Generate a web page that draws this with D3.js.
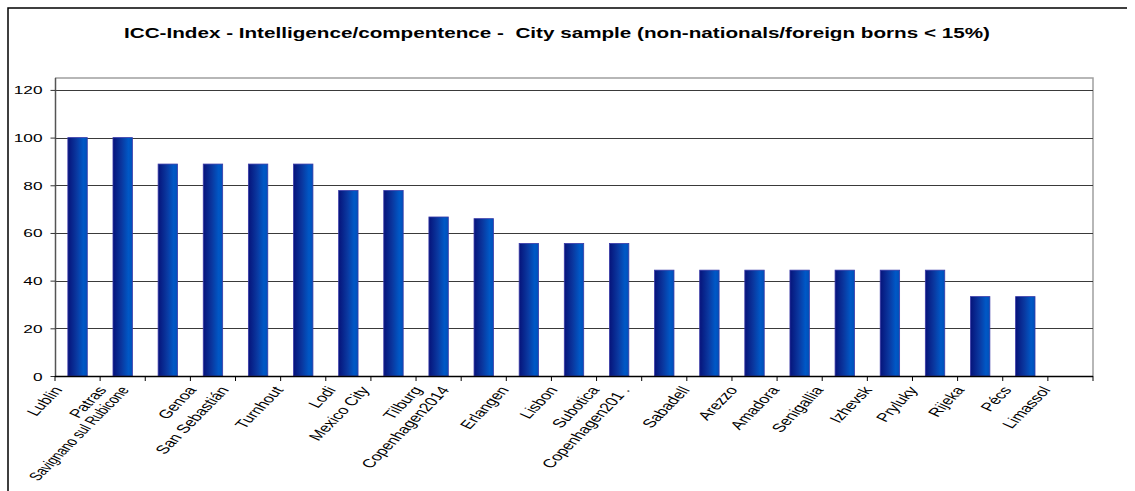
<!DOCTYPE html>
<html>
<head>
<meta charset="utf-8">
<script src="https://cdn.jsdelivr.net/npm/d3@7"></script>
<style>
  body { margin: 0; background: #fff; }
  svg text { font-family: "Liberation Sans", Arial, sans-serif; }
</style>
</head>
<body>
<svg class="viz"></svg>
<script>
var width = 1135,
  height = 491;

var cities = ["Lublin", "Patras", "Savignano sul Rubicone", "Genoa", "San Sebastián",
  "Turnhout", "Lodi", "Mexico City", "Tilburg", "Copenhagen2014", "Erlangen",
  "Lisbon", "Subotica", "Copenhagen201 .", "Sabadell", "Arezzo", "Amadora",
  "Senigallia", "Izhevsk", "Pryluky", "Rijeka", "Pécs", "Limassol"];

var scores = [100, 100, 88.9, 88.9, 88.9, 88.9, 77.8, 77.8, 66.7, 66, 55.6,
  55.6, 55.6, 44.4, 44.4, 44.4, 44.4, 44.4, 44.4, 44.4, 33.3, 33.3, 0];

var y_ticks = [0, 20, 40, 60, 80, 100, 120];

var title = "ICC-Index - Intelligence/compentence -  City sample (non-nationals/foreign borns < 15%)";

var plot = { left: 55, right: 1093, top: 78, bottom: 376 };
var stretch = 1.5; // the original picture is squeezed vertically, text looks wide

var svg = d3.select(".viz")
  .attr("width", width)
  .attr("height", height);

var x = d3.scaleBand()
  .domain(cities)
  .range([plot.left, plot.right])
  .padding(0);

var y = d3.scaleLinear()
  .domain([0, 125])
  .range([plot.bottom, plot.top]);

// gradient for the cylinder-ish bars
var grad = svg.append("defs").append("linearGradient")
  .attr("id", "barfill")
  .attr("x1", "0%").attr("x2", "100%")
  .attr("y1", "0%").attr("y2", "0%");
grad.append("stop").attr("offset", "0%").attr("stop-color", "#06137a");
grad.append("stop").attr("offset", "45%").attr("stop-color", "#0a38a0");
grad.append("stop").attr("offset", "80%").attr("stop-color", "#0058c6");
grad.append("stop").attr("offset", "100%").attr("stop-color", "#0050b8");

// outer frame (left + top only, picture is cropped)
svg.append("path")
  .attr("d", "M8,491 L8,8 L1127,8")
  .attr("fill", "none")
  .attr("stroke", "#000")
  .attr("stroke-width", 1.5);

// title
svg.append("text")
  .attr("x", 557)
  .attr("y", 38)
  .attr("text-anchor", "middle")
  .attr("font-size", 15)
  .attr("font-weight", "bold")
  .style("white-space", "pre")
  .attr("textLength", 866)
  .attr("lengthAdjust", "spacingAndGlyphs")
  .text(title);

// plot area border top / right
svg.append("path")
  .attr("d", "M" + plot.left + "," + plot.top + " L" + plot.right + "," + plot.top + " L" + plot.right + "," + plot.bottom)
  .attr("fill", "none")
  .attr("stroke", "#a0a0a0")
  .attr("stroke-width", 1.5);

// gridlines
svg.append("g")
  .selectAll("line")
  .data(y_ticks.filter(d => d > 0))
  .enter()
  .append("line")
  .attr("x1", plot.left)
  .attr("x2", plot.right)
  .attr("y1", d => Math.round(y(d)) + 0.5)
  .attr("y2", d => Math.round(y(d)) + 0.5)
  .attr("stroke", "#3a3a3a")
  .attr("stroke-width", 1);

// y axis
var y_axis = svg.append("g")
  .attr("transform", "translate(" + (plot.left + 0.5) + ",0)")
  .call(d3.axisLeft(y).tickValues(y_ticks).tickSize(5).tickFormat(d3.format("d")));
y_axis.select(".domain").attr("stroke", "#555").attr("stroke-width", 1.5)
  .attr("d", "M0," + plot.top + "V" + plot.bottom);
y_axis.selectAll(".tick line").attr("stroke", "#333");
y_axis.selectAll(".tick text")
  .attr("x", null)
  .attr("dy", null)
  .attr("font-size", 11.5)
  .attr("fill", "#000")
  .attr("text-anchor", "end")
  .attr("transform", d => "translate(-13," + (y(d) + 4) + ") scale(" + stretch + ",1) translate(0," + (-y(d)) + ")");

// bars
var bar_w = x.bandwidth() * 0.43;
svg.append("g")
  .selectAll("rect")
  .data(scores.map((v, i) => ({ city: cities[i], v: v })).filter(d => d.v > 0))
  .enter()
  .append("rect")
  .attr("x", d => x(d.city) + (x.bandwidth() - bar_w) / 2)
  .attr("width", bar_w)
  .attr("y", d => y(d.v))
  .attr("height", d => y(0) - y(d.v))
  .attr("fill", "url(#barfill)")
  .attr("stroke", "#3a3aa8")
  .attr("stroke-width", 0.8);

// x axis with ticks at category boundaries
var x_axis = svg.append("g");
x_axis.append("line")
  .attr("x1", plot.left)
  .attr("x2", plot.right)
  .attr("y1", plot.bottom + 0.5)
  .attr("y2", plot.bottom + 0.5)
  .attr("stroke", "#000")
  .attr("stroke-width", 1.5);
x_axis.selectAll(".xtick")
  .data(d3.range(cities.length + 1))
  .enter()
  .append("line")
  .attr("class", "xtick")
  .attr("x1", i => plot.left + i * x.step())
  .attr("x2", i => plot.left + i * x.step())
  .attr("y1", plot.bottom)
  .attr("y2", plot.bottom + 5)
  .attr("stroke", "#000");

// slanted city labels
var angle = Math.atan(stretch) * 180 / Math.PI;
var max_len = 110;
x_axis.selectAll(".xlabel")
  .data(cities)
  .enter()
  .append("text")
  .attr("class", "xlabel")
  .attr("font-size", 12)
  .attr("text-anchor", "end")
  .text(d => d)
  .each(function() {
    if (this.getComputedTextLength() > max_len) {
      d3.select(this).attr("textLength", max_len).attr("lengthAdjust", "spacingAndGlyphs");
    }
  })
  .attr("transform", function(d) {
    var len = Math.min(this.getComputedTextLength(), max_len);
    var ex = x(d) + x.bandwidth() / 2 - 5 - 0.3 * len;
    return "translate(" + ex + "," + (plot.bottom + 14) + ") scale(" + stretch + ",1) rotate(" + (-angle) + ")";
  });
</script>
</body>
</html>
